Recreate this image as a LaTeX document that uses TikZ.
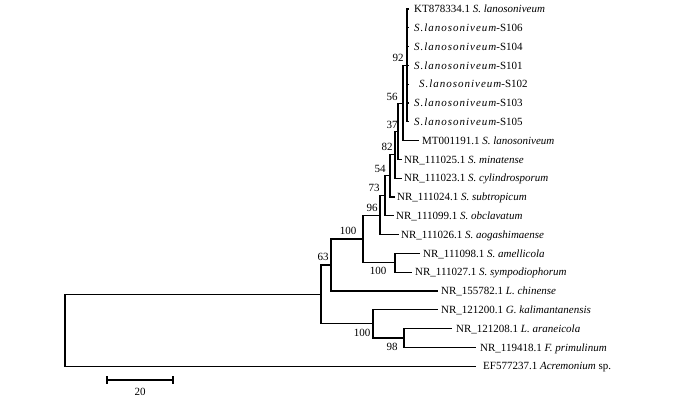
\documentclass[tikz,border=0pt]{standalone}
\usepackage{fontspec}
\setmainfont{Liberation Serif}
\newfontfamily\lsfont[LetterSpace=9]{Liberation Serif}
\newcommand{\lsname}{{\lsfont\itshape S.lanosoniveum}}
\begin{document}
\begin{tikzpicture}[x=1pt,y=-1pt,
  br/.style={line width=1.1pt, draw=black},
  lf/.style={anchor=base west, inner sep=0pt, font=\fontsize{11}{13}\selectfont},
  bs/.style={inner sep=0pt, font=\fontsize{11}{13}\selectfont}]
\useasboundingbox (0,0) rectangle (700,397);
% internal nodes
\coordinate (A) at (407,65.5);
\coordinate (B) at (403,103.05);
\coordinate (C) at (398,131.2);
\coordinate (D) at (395,154.7);
\coordinate (E) at (390,175.85);
\coordinate (F) at (385,195.8);
\coordinate (G) at (380,215.2);
\coordinate (I) at (395,262.8);
\coordinate (H) at (363,239);
\coordinate (J) at (331,265);
\coordinate (M) at (404,338);
\coordinate (L) at (373,323.9);
\coordinate (K) at (321,294.45);
\coordinate (R) at (65,330.3);
% leaf tips
\coordinate (e1) at (409,9);
\coordinate (e2) at (409,27.8);
\coordinate (e3) at (409,46.6);
\coordinate (e4) at (409,65.4);
\coordinate (e5) at (409,84.2);
\coordinate (e6) at (409,103);
\coordinate (e7) at (409,121.8);
\coordinate (e8) at (419,140.6);
\coordinate (e9) at (402,159.4);
\coordinate (e10) at (402,178.2);
\coordinate (e11) at (395,197);
\coordinate (e12) at (394,215.8);
\coordinate (e13) at (399,234.6);
\coordinate (e14) at (420,253.4);
\coordinate (e15) at (412,272.2);
\coordinate (e16) at (438,291);
\coordinate (e17) at (438,309.8);
\coordinate (e18) at (452,328.6);
\coordinate (e19) at (476,347.4);
\coordinate (e20) at (476,366.2);
% leaf labels
\node[lf] (t1) at (414,12.7) {KT878334.1 \textit{S. lanosoniveum}};
\node[lf] (t2) at (414,31.5) {\lsname-S106};
\node[lf] (t3) at (414,50.3) {\lsname-S104};
\node[lf] (t4) at (414,69.1) {\lsname-S101};
\node[lf] (t5) at (419,87.9) {\lsname-S102};
\node[lf] (t6) at (414,106.7) {\lsname-S103};
\node[lf] (t7) at (414,125.5) {\lsname-S105};
\node[lf] (t8) at (422,144.3) {MT001191.1 \textit{S. lanosoniveum}};
\node[lf] (t9) at (404,163.1) {NR\_111025.1 \textit{S. minatense}};
\node[lf] (t10) at (404,181.9) {NR\_111023.1 \textit{S. cylindrosporum}};
\node[lf] (t11) at (397,200.7) {NR\_111024.1 \textit{S. subtropicum}};
\node[lf] (t12) at (396,219.5) {NR\_111099.1 \textit{S. obclavatum}};
\node[lf] (t13) at (401,238.3) {NR\_111026.1 \textit{S. aogashimaense}};
\node[lf] (t14) at (423,257.1) {NR\_111098.1 \textit{S. amellicola}};
\node[lf] (t15) at (415,275.9) {NR\_111027.1 \textit{S. sympodiophorum}};
\node[lf] (t16) at (441,294.7) {NR\_155782.1 \textit{L. chinense}};
\node[lf] (t17) at (441,313.5) {NR\_121200.1 \textit{G. kalimantanensis}};
\node[lf] (t18) at (456,332.3) {NR\_121208.1 \textit{L. araneicola}};
\node[lf] (t19) at (480,351.1) {NR\_119418.1 \textit{F. primulinum}};
\node[lf] (t20) at (483,369.9) {EF577237.1 \textit{Acremonium} sp.};
% branches
\foreach \i in {1,...,7} {\draw[br] (A) |- (e\i);}
\draw[br] (B) |- (A);
\draw[br] (B) |- (e8);
\draw[br] (C) |- (B);
\draw[br] (C) |- (e9);
\draw[br] (D) |- (C);
\draw[br] (D) |- (e10);
\draw[br] (E) |- (D);
\draw[br] (E) |- (e11);
\draw[br] (F) |- (E);
\draw[br] (F) |- (e12);
\draw[br] (G) |- (F);
\draw[br] (G) |- (e13);
\draw[br] (I) |- (e14);
\draw[br] (I) |- (e15);
\draw[br] (H) |- (G);
\draw[br] (H) |- (I);
\draw[br] (J) |- (H);
\draw[br] (J) |- (e16);
\draw[br] (M) |- (e18);
\draw[br] (M) |- (e19);
\draw[br] (L) |- (e17);
\draw[br] (L) |- (M);
\draw[br] (K) |- (J);
\draw[br] (K) |- (L);
\draw[br] (R) |- (K);
\draw[br] (R) |- (e20);
% bootstrap values
\node[bs] (b92) at (398,58) {92};
\node[bs] (b56) at (392,97) {56};
\node[bs] (b37) at (392,125) {37};
\node[bs] (b82) at (387,147) {82};
\node[bs] (b54) at (380,169) {54};
\node[bs] (b73) at (374,188) {73};
\node[bs] (b96) at (372,208) {96};
\node[bs] (b100a) at (348,231) {100};
\node[bs] (b100b) at (378,271) {100};
\node[bs] (b63) at (323,257) {63};
\node[bs] (b100c) at (362,333) {100};
\node[bs] (b98) at (392,347) {98};
% scale bar
\coordinate (s1) at (107,380);
\coordinate (s2) at (173,380);
\draw[br] (s1) -- (s2);
\draw[br] ([yshift=4pt]s1) -- ([yshift=-4pt]s1);
\draw[br] ([yshift=4pt]s2) -- ([yshift=-4pt]s2);
\node[bs] (sbl) at (140,391.5) {20};
\end{tikzpicture}
\end{document}
